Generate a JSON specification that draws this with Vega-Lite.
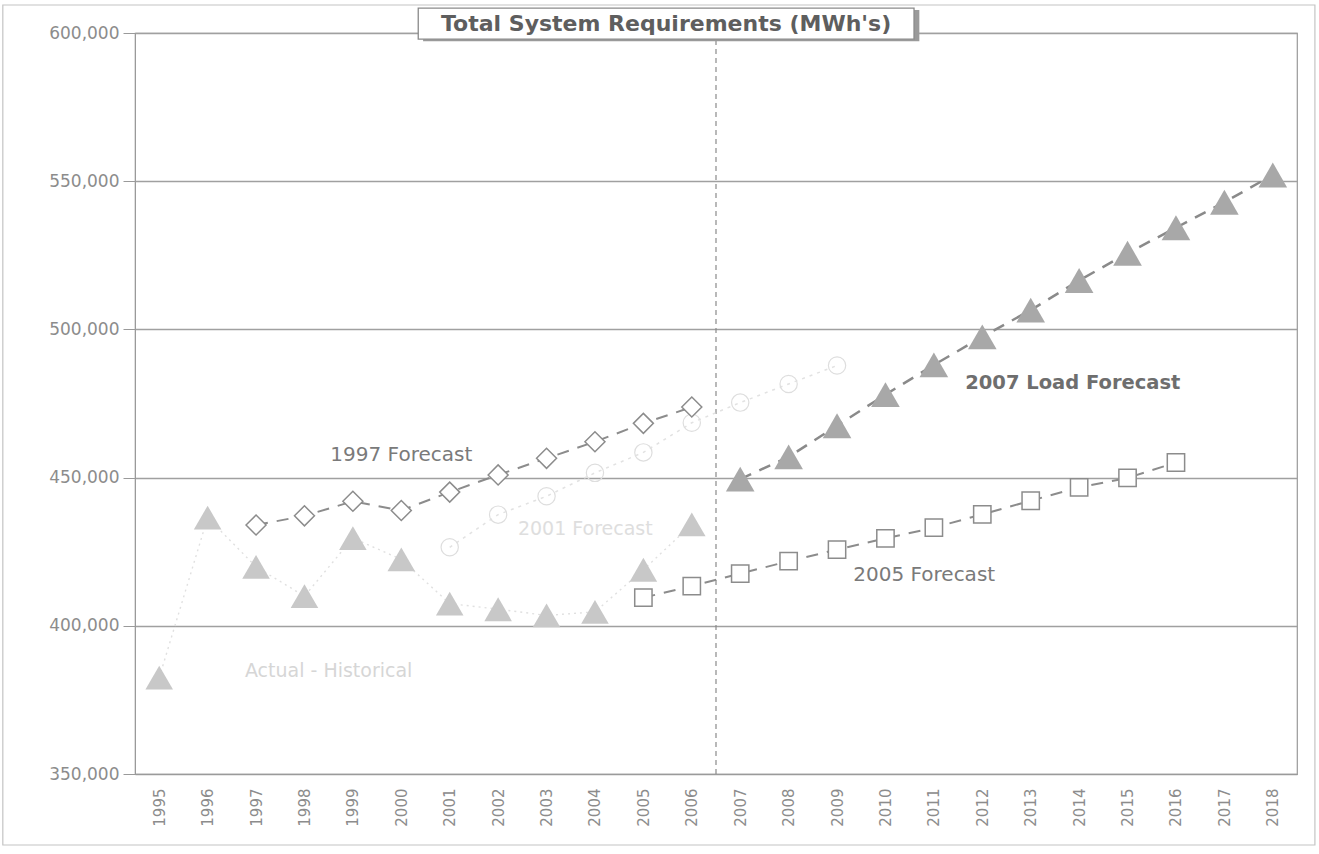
{
  "$schema": "https://vega.github.io/schema/vega-lite/v6.json",
  "width": 1162,
  "height": 741,
  "autosize": {"type": "none"},
  "padding": {"left": 135, "top": 33, "right": 22, "bottom": 80},
  "background": "white",
  "config": {
    "view": {"stroke": "#9a9a9a", "strokeWidth": 1.2},
    "font": "DejaVu Sans"
  },
  "datasets": {
    "rows": [
      {"series": "Actual - Historical", "year": 1995, "value": 382500},
      {"series": "Actual - Historical", "year": 1996, "value": 436500},
      {"series": "Actual - Historical", "year": 1997, "value": 419900},
      {"series": "Actual - Historical", "year": 1998, "value": 410000},
      {"series": "Actual - Historical", "year": 1999, "value": 429600},
      {"series": "Actual - Historical", "year": 2000, "value": 422400},
      {"series": "Actual - Historical", "year": 2001, "value": 407500},
      {"series": "Actual - Historical", "year": 2002, "value": 405600},
      {"series": "Actual - Historical", "year": 2003, "value": 403500},
      {"series": "Actual - Historical", "year": 2004, "value": 404700},
      {"series": "Actual - Historical", "year": 2005, "value": 418900},
      {"series": "Actual - Historical", "year": 2006, "value": 434200},
      {"series": "1997 Forecast", "year": 1997, "value": 434000},
      {"series": "1997 Forecast", "year": 1998, "value": 437100},
      {"series": "1997 Forecast", "year": 1999, "value": 442000},
      {"series": "1997 Forecast", "year": 2000, "value": 438900},
      {"series": "1997 Forecast", "year": 2001, "value": 445100},
      {"series": "1997 Forecast", "year": 2002, "value": 450900},
      {"series": "1997 Forecast", "year": 2003, "value": 456500},
      {"series": "1997 Forecast", "year": 2004, "value": 462100},
      {"series": "1997 Forecast", "year": 2005, "value": 468300},
      {"series": "1997 Forecast", "year": 2006, "value": 473800},
      {"series": "2001 Forecast", "year": 2001, "value": 426500},
      {"series": "2001 Forecast", "year": 2002, "value": 437500},
      {"series": "2001 Forecast", "year": 2003, "value": 443700},
      {"series": "2001 Forecast", "year": 2004, "value": 451600},
      {"series": "2001 Forecast", "year": 2005, "value": 458500},
      {"series": "2001 Forecast", "year": 2006, "value": 468500},
      {"series": "2001 Forecast", "year": 2007, "value": 475300},
      {"series": "2001 Forecast", "year": 2008, "value": 481600},
      {"series": "2001 Forecast", "year": 2009, "value": 487800},
      {"series": "2005 Forecast", "year": 2005, "value": 409500},
      {"series": "2005 Forecast", "year": 2006, "value": 413400},
      {"series": "2005 Forecast", "year": 2007, "value": 417600},
      {"series": "2005 Forecast", "year": 2008, "value": 421800},
      {"series": "2005 Forecast", "year": 2009, "value": 425700},
      {"series": "2005 Forecast", "year": 2010, "value": 429500},
      {"series": "2005 Forecast", "year": 2011, "value": 433100},
      {"series": "2005 Forecast", "year": 2012, "value": 437600},
      {"series": "2005 Forecast", "year": 2013, "value": 442200},
      {"series": "2005 Forecast", "year": 2014, "value": 446700},
      {"series": "2005 Forecast", "year": 2015, "value": 449900},
      {"series": "2005 Forecast", "year": 2016, "value": 455100},
      {"series": "2007 Load Forecast", "year": 2007, "value": 449500},
      {"series": "2007 Load Forecast", "year": 2008, "value": 457000},
      {"series": "2007 Load Forecast", "year": 2009, "value": 467500},
      {"series": "2007 Load Forecast", "year": 2010, "value": 478000},
      {"series": "2007 Load Forecast", "year": 2011, "value": 488000},
      {"series": "2007 Load Forecast", "year": 2012, "value": 497500},
      {"series": "2007 Load Forecast", "year": 2013, "value": 506500},
      {"series": "2007 Load Forecast", "year": 2014, "value": 516500},
      {"series": "2007 Load Forecast", "year": 2015, "value": 525700},
      {"series": "2007 Load Forecast", "year": 2016, "value": 534300},
      {"series": "2007 Load Forecast", "year": 2017, "value": 542900},
      {"series": "2007 Load Forecast", "year": 2018, "value": 552100}
    ],
    "notes": [
      {"label": "1997 Forecast"},
      {"label": "2001 Forecast"},
      {"label": "Actual - Historical"},
      {"label": "2007 Load Forecast"},
      {"label": "2005 Forecast"},
      {"label": "Total System Requirements (MWh's)"}
    ]
  },
  "layer": [
    {
      "data": {"name": "notes"},
      "transform": [{"filter": "datum.label === '1997 Forecast'"}],
      "mark": {"type": "rect", "fill": null, "fillOpacity": 0, "stroke": "#c4c4c4", "strokeWidth": 1.2, "clip": false},
      "encoding": {"x": {"datum": 1991.77}, "x2": {"datum": 2018.87}, "y": {"datum": 609450}, "y2": {"datum": 326050}}
    },
    {
      "data": {"name": "rows"},
      "transform": [{"filter": "datum.series === 'Actual - Historical'"}],
      "mark": {"type": "line", "color": "#e0e0e0", "strokeDash": [2, 4], "strokeWidth": 1.4},
      "encoding": {
        "x": {
          "field": "year",
          "type": "quantitative",
          "scale": {"domain": [1994.5, 2018.5], "nice": false, "zero": false},
          "axis": {
            "title": null,
            "values": [1995, 1996, 1997, 1998, 1999, 2000, 2001, 2002, 2003, 2004, 2005, 2006, 2007, 2008, 2009, 2010, 2011, 2012, 2013, 2014, 2015, 2016, 2017, 2018],
            "format": "d",
            "labelAngle": 270,
            "labelFontSize": 15,
            "labelColor": "#8c8c8c",
            "labelPadding": 14,
            "ticks": false,
            "grid": false,
            "domainColor": "#9a9a9a",
            "labelFont": "DejaVu Sans"
          }
        },
        "y": {
          "field": "value",
          "type": "quantitative",
          "scale": {"domain": [350000, 600000], "nice": false, "zero": false},
          "axis": {
            "title": null,
            "values": [350000, 400000, 450000, 500000, 550000, 600000],
            "format": ",d",
            "labelFontSize": 17,
            "labelColor": "#8c8c8c",
            "labelPadding": 4,
            "tickSize": 12,
            "tickColor": "#9a9a9a",
            "domainColor": "#9a9a9a",
            "grid": true,
            "gridColor": "#a0a0a0",
            "gridWidth": 1.3,
            "labelFont": "DejaVu Sans"
          }
        }
      }
    },
    {
      "data": {"name": "notes"},
      "transform": [{"filter": "datum.label === '1997 Forecast'"}],
      "mark": {"type": "rule", "color": "#8a8a8a", "strokeDash": [5, 4], "strokeWidth": 1.2},
      "encoding": {"x": {"datum": 2006.5}, "y": {"datum": 350000}, "y2": {"datum": 600000}}
    },
    {
      "data": {"name": "rows"},
      "transform": [{"filter": "datum.series === '2001 Forecast'"}],
      "mark": {"type": "line", "color": "#e2e2e2", "strokeDash": [3, 5], "strokeWidth": 1.5},
      "encoding": {"x": {"field": "year", "type": "quantitative"}, "y": {"field": "value", "type": "quantitative"}}
    },
    {
      "data": {"name": "rows"},
      "transform": [{"filter": "datum.series === '1997 Forecast'"}],
      "mark": {"type": "line", "color": "#8c8c8c", "strokeDash": [12, 9], "strokeWidth": 2},
      "encoding": {"x": {"field": "year", "type": "quantitative"}, "y": {"field": "value", "type": "quantitative"}}
    },
    {
      "data": {"name": "rows"},
      "transform": [{"filter": "datum.series === '2005 Forecast'"}],
      "mark": {"type": "line", "color": "#8c8c8c", "strokeDash": [12, 9], "strokeWidth": 2},
      "encoding": {"x": {"field": "year", "type": "quantitative"}, "y": {"field": "value", "type": "quantitative"}}
    },
    {
      "data": {"name": "rows"},
      "transform": [{"filter": "datum.series === '2007 Load Forecast'"}],
      "mark": {"type": "line", "color": "#8a8a8a", "strokeDash": [12, 9], "strokeWidth": 2.5},
      "encoding": {"x": {"field": "year", "type": "quantitative"}, "y": {"field": "value", "type": "quantitative"}}
    },
    {
      "data": {"name": "rows"},
      "transform": [{"filter": "datum.series === 'Actual - Historical'"}],
      "mark": {"type": "point", "shape": "triangle-up", "size": 760, "filled": true, "color": "#c8c8c8", "opacity": 1},
      "encoding": {"x": {"field": "year", "type": "quantitative"}, "y": {"field": "value", "type": "quantitative"}}
    },
    {
      "data": {"name": "rows"},
      "transform": [{"filter": "datum.series === '2001 Forecast'"}],
      "mark": {"type": "point", "shape": "circle", "size": 300, "filled": false, "color": "#dedede", "strokeWidth": 1.2, "opacity": 1},
      "encoding": {"x": {"field": "year", "type": "quantitative"}, "y": {"field": "value", "type": "quantitative"}}
    },
    {
      "data": {"name": "rows"},
      "transform": [{"filter": "datum.series === '1997 Forecast'"}],
      "mark": {"type": "point", "shape": "diamond", "size": 400, "filled": true, "fill": "white", "stroke": "#8c8c8c", "strokeWidth": 1.5, "opacity": 1},
      "encoding": {"x": {"field": "year", "type": "quantitative"}, "y": {"field": "value", "type": "quantitative"}}
    },
    {
      "data": {"name": "rows"},
      "transform": [{"filter": "datum.series === '2005 Forecast'"}],
      "mark": {"type": "point", "shape": "square", "size": 300, "filled": true, "fill": "white", "stroke": "#8c8c8c", "strokeWidth": 1.5, "opacity": 1},
      "encoding": {"x": {"field": "year", "type": "quantitative"}, "y": {"field": "value", "type": "quantitative"}}
    },
    {
      "data": {"name": "rows"},
      "transform": [{"filter": "datum.series === '2007 Load Forecast'"}],
      "mark": {"type": "point", "shape": "triangle-up", "size": 820, "filled": true, "color": "#a8a8a8", "opacity": 1},
      "encoding": {"x": {"field": "year", "type": "quantitative"}, "y": {"field": "value", "type": "quantitative"}}
    },
    {
      "data": {"name": "notes"},
      "transform": [{"filter": "datum.label === '1997 Forecast'"}],
      "mark": {"type": "text", "fontSize": 20, "color": "#7a7a7a", "font": "DejaVu Sans"},
      "encoding": {"text": {"field": "label"}, "x": {"datum": 2000.0}, "y": {"datum": 457700}}
    },
    {
      "data": {"name": "notes"},
      "transform": [{"filter": "datum.label === '2001 Forecast'"}],
      "mark": {"type": "text", "fontSize": 19, "color": "#dedede", "font": "DejaVu Sans"},
      "encoding": {"text": {"field": "label"}, "x": {"datum": 2003.8}, "y": {"datum": 432600}}
    },
    {
      "data": {"name": "notes"},
      "transform": [{"filter": "datum.label === 'Actual - Historical'"}],
      "mark": {"type": "text", "fontSize": 19, "color": "#d6d6d6", "font": "DejaVu Sans"},
      "encoding": {"text": {"field": "label"}, "x": {"datum": 1998.5}, "y": {"datum": 384800}}
    },
    {
      "data": {"name": "notes"},
      "transform": [{"filter": "datum.label === '2007 Load Forecast'"}],
      "mark": {"type": "text", "fontSize": 19.5, "fontWeight": "bold", "color": "#6e6e6e", "font": "DejaVu Sans"},
      "encoding": {"text": {"field": "label"}, "x": {"datum": 2013.87}, "y": {"datum": 482000}}
    },
    {
      "data": {"name": "notes"},
      "transform": [{"filter": "datum.label === '2005 Forecast'"}],
      "mark": {"type": "text", "fontSize": 20, "color": "#7a7a7a", "font": "DejaVu Sans"},
      "encoding": {"text": {"field": "label"}, "x": {"datum": 2010.8}, "y": {"datum": 417000}}
    },
    {
      "data": {"name": "notes"},
      "transform": [{"filter": "datum.label === 'Total System Requirements (MWh\\'s)'"}],
      "mark": {"type": "rect", "fill": "#9a9a9a", "clip": false},
      "encoding": {"x": {"datum": 2000.45}, "x2": {"datum": 2010.7}, "y": {"datum": 607800}, "y2": {"datum": 597200}}
    },
    {
      "data": {"name": "notes"},
      "transform": [{"filter": "datum.label === 'Total System Requirements (MWh\\'s)'"}],
      "mark": {"type": "rect", "fill": "white", "stroke": "#8a8a8a", "strokeWidth": 1.3, "clip": false},
      "encoding": {"x": {"datum": 2000.35}, "x2": {"datum": 2010.59}, "y": {"datum": 608400}, "y2": {"datum": 597900}}
    },
    {
      "data": {"name": "notes"},
      "transform": [{"filter": "datum.label === 'Total System Requirements (MWh\\'s)'"}],
      "mark": {"type": "text", "fontSize": 22, "fontWeight": "bold", "color": "#5e5e5e", "font": "DejaVu Sans", "clip": false},
      "encoding": {"text": {"field": "label"}, "x": {"datum": 2005.47}, "y": {"datum": 603200}}
    }
  ]
}
